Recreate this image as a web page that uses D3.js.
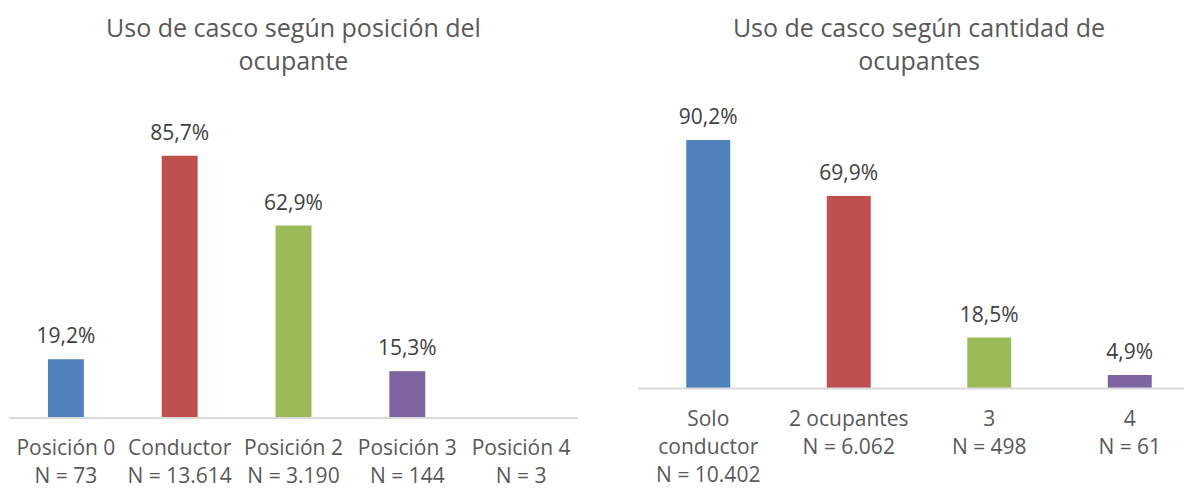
<!DOCTYPE html>
<html>
<head>
<meta charset="utf-8">
<script src="https://cdn.jsdelivr.net/npm/d3@7"></script>
<style>
  body { margin: 0; background: #fff; }
  text { font-family: "Open Sans", "Noto Sans", sans-serif; }
</style>
</head>
<body>
<svg id="chart" width="1184" height="488"></svg>
<script>
// chart 1: helmet use by occupant position
var posTitle = ["Uso de casco según posición del", "ocupante"];
var posCategories = [["Posición 0"], ["Conductor"], ["Posición 2"], ["Posición 3"], ["Posición 4"]];
var posN = ["N = 73", "N = 13.614", "N = 3.190", "N = 144", "N = 3"];
var posValues = [19.2, 85.7, 62.9, 15.3, null];

// chart 2: helmet use by number of occupants
var ocuTitle = ["Uso de casco según cantidad de", "ocupantes"];
var ocuCategories = [["Solo", "conductor"], ["2 ocupantes"], ["3"], ["4"]];
var ocuN = ["N = 10.402", "N = 6.062", "N = 498", "N = 61"];
var ocuValues = [90.2, 69.9, 18.5, 4.9];

var colors = ["#4F81BD", "#C0504D", "#9BBB59", "#8064A2", "#4BACC6"];

var svg = d3.select("#chart");
var pct = function (v) { return d3.format(".1f")(v).replace(".", ",") + "%"; };

function barChart(cfg) {
    var g = svg.append("g");

    var x = d3.scaleBand()
        .domain(d3.range(cfg.values.length))
        .range([cfg.x0, cfg.x1])
        .paddingInner(cfg.pad)
        .paddingOuter(cfg.pad / 2);

    var y = d3.scaleLinear()
        .domain([0, 100])
        .range([cfg.base, cfg.top]);

    // title, two lines
    g.append("text")
        .attr("x", (cfg.x0 + cfg.x1) / 2)
        .attr("y", 37)
        .attr("text-anchor", "middle")
        .style("font-size", "25px")
        .style("fill", "#595959")
        .selectAll("tspan")
        .data(cfg.title)
        .enter()
        .append("tspan")
        .attr("x", (cfg.x0 + cfg.x1) / 2)
        .attr("dy", function (d, i) { return i ? 33 : 0; })
        .text(function (d) { return d; });

    var data = cfg.values.map(function (v, i) { return {i: i, v: v}; })
        .filter(function (d) { return d.v != null; });

    g.selectAll("rect.bar")
        .data(data)
        .enter()
        .append("rect")
        .attr("class", "bar")
        .attr("x", function (d) { return x(d.i); })
        .attr("width", x.bandwidth())
        .attr("y", function (d) { return y(d.v); })
        .attr("height", function (d) { return y(0) - y(d.v); })
        .style("fill", function (d) { return colors[d.i]; });

    g.selectAll("text.val")
        .data(data)
        .enter()
        .append("text")
        .attr("class", "val")
        .attr("x", function (d) { return x(d.i) + x.bandwidth() / 2; })
        .attr("y", function (d) { return y(d.v) - 16; })
        .attr("text-anchor", "middle")
        .style("font-size", "21px")
        .style("fill", "#404040")
        .text(function (d) { return pct(d.v); });

    // category axis
    var axis = d3.axisBottom(x).tickSize(0).tickFormat("");
    var ax = g.append("g")
        .attr("transform", "translate(0," + cfg.base + ")")
        .call(axis);
    ax.select(".domain").remove();
    ax.append("line")
        .attr("x1", cfg.lineX0)
        .attr("x2", cfg.lineX1)
        .style("stroke", "#d9d9d9")
        .style("stroke-width", 2);

    ax.selectAll(".tick").append("text")
        .attr("y", 37)
        .attr("text-anchor", "middle")
        .style("font-size", "21px")
        .style("fill", "#595959")
        .selectAll("tspan")
        .data(function (i) { return cfg.categories[i].concat([cfg.n[i]]); })
        .enter()
        .append("tspan")
        .attr("x", 0)
        .attr("dy", function (d, i) { return i ? 28 : 0; })
        .text(function (d) { return d; });
}

barChart({
    title: posTitle, categories: posCategories, n: posN, values: posValues,
    x0: 9, x1: 578, lineX0: 9, lineX1: 578, base: 418, top: 112, pad: 0.684
});

barChart({
    title: ocuTitle, categories: ocuCategories, n: ocuN, values: ocuValues,
    x0: 638, x1: 1200, lineX0: 638, lineX1: 1184, base: 388.5, top: 113, pad: 0.687
});
</script>
</body>
</html>
